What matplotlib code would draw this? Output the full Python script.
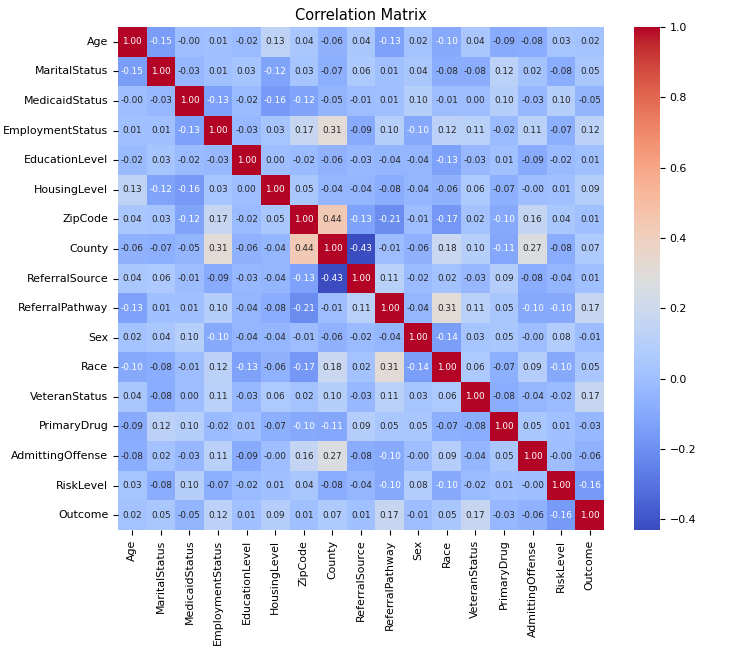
import numpy as np
import matplotlib
matplotlib.use("Agg")
import matplotlib.pyplot as plt
import seaborn as sns

labels = ["Age", "MaritalStatus", "MedicaidStatus", "EmploymentStatus", "EducationLevel",
          "HousingLevel", "ZipCode", "County", "ReferralSource", "ReferralPathway", "Sex",
          "Race", "VeteranStatus", "PrimaryDrug", "AdmittingOffense", "RiskLevel", "Outcome"]

# upper triangle rows (starting at diagonal)
row_age = [1.00, -0.15, -0.00, 0.01, -0.02, 0.13, 0.04, -0.06, 0.04, -0.13, 0.02, -0.10, 0.04, -0.09, -0.08, 0.03, 0.02]
row_marital = [1.00, -0.03, 0.01, 0.03, -0.12, 0.03, -0.07, 0.06, 0.01, 0.04, -0.08, -0.08, 0.12, 0.02, -0.08, 0.05]
row_medicaid = [1.00, -0.13, -0.02, -0.16, -0.12, -0.05, -0.01, 0.01, 0.10, -0.01, 0.00, 0.10, -0.03, 0.10, -0.05]
row_employment = [1.00, -0.03, 0.03, 0.17, 0.31, -0.09, 0.10, -0.10, 0.12, 0.11, -0.02, 0.11, -0.07, 0.12]
row_education = [1.00, 0.00, -0.02, -0.06, -0.03, -0.04, -0.04, -0.13, -0.03, 0.01, -0.09, -0.02, 0.01]
row_housing = [1.00, 0.05, -0.04, -0.04, -0.08, -0.04, -0.06, 0.06, -0.07, -0.00, 0.01, 0.09]
row_zip = [1.00, 0.44, -0.13, -0.21, -0.01, -0.17, 0.02, -0.10, 0.16, 0.04, 0.01]
row_county = [1.00, -0.43, -0.01, -0.06, 0.18, 0.10, -0.11, 0.27, -0.08, 0.07]
row_refsource = [1.00, 0.11, -0.02, 0.02, -0.03, 0.09, -0.08, -0.04, 0.01]
row_refpath = [1.00, -0.04, 0.31, 0.11, 0.05, -0.10, -0.10, 0.17]
row_sex = [1.00, -0.14, 0.03, 0.05, -0.00, 0.08, -0.01]
row_race = [1.00, 0.06, -0.07, 0.09, -0.10, 0.05]
row_veteran = [1.00, -0.08, -0.04, -0.02, 0.17]
row_drug = [1.00, 0.05, 0.01, -0.03]
row_offense = [1.00, -0.00, -0.06]
row_risk = [1.00, -0.16]
row_outcome = [1.00]

upper_rows = [row_age, row_marital, row_medicaid, row_employment, row_education, row_housing,
              row_zip, row_county, row_refsource, row_refpath, row_sex, row_race, row_veteran,
              row_drug, row_offense, row_risk, row_outcome]

n = len(labels)
corr = np.zeros((n, n))
for i, r in enumerate(upper_rows):
    for k, v in enumerate(r):
        j = i + k
        corr[i, j] = v
        corr[j, i] = v

W, H = 741, 651
fig = plt.figure(figsize=(W / 100, H / 100), dpi=100)
ax = fig.add_axes([118 / W, (H - 530) / H, 486 / W, 503 / H])
cax = fig.add_axes([634 / W, (H - 530) / H, 26 / W, 503 / H])

sns.heatmap(corr, annot=True, fmt=".2f", cmap="coolwarm", ax=ax, cbar_ax=cax,
            xticklabels=labels, yticklabels=labels, annot_kws={"size": 6.4})

ax.set_title("Correlation Matrix", fontsize=10.5, pad=5)
ax.tick_params(axis="both", labelsize=7.9)
plt.setp(ax.get_xticklabels(), rotation=90)
plt.setp(ax.get_yticklabels(), rotation=0)
cax.tick_params(labelsize=7.9)

fig.savefig("out.png", dpi=100)
